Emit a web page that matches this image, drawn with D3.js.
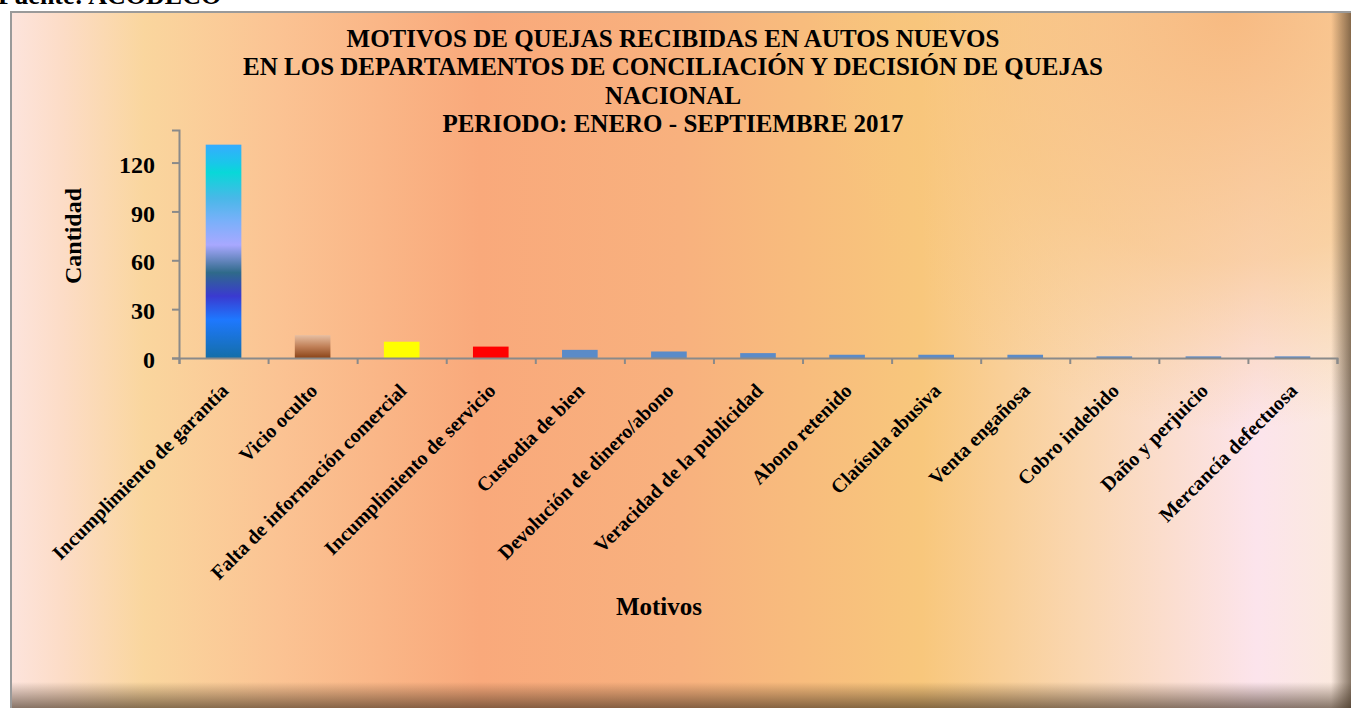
<!DOCTYPE html>
<html>
<head>
<meta charset="utf-8">
<script src="https://cdn.jsdelivr.net/npm/d3@7"></script>
<style>
    body { margin: 0; background: #ffffff; overflow: hidden; }
    svg { display: block; font-family: "Liberation Serif", "Times New Roman", serif; font-weight: bold; }
</style>
</head>
<body>
<svg id="chart"></svg>
<script>
// datos del grafico
const categorias = [
    "Incumplimiento de garantía",
    "Vicio oculto",
    "Falta de información comercial",
    "Incumplimiento de servicio",
    "Custodia de bien",
    "Devolución de dinero/abono",
    "Veracidad de la publicidad",
    "Abono retenido",
    "Claúsula abusiva",
    "Venta engañosa",
    "Cobro indebido",
    "Daño y perjuicio",
    "Mercancía defectuosa"
];
const cantidades = [131, 14, 10, 7, 5, 4, 3, 2, 2, 2, 1, 1, 1];
const ticksY = [0, 30, 60, 90, 120];
const titulo = [
    "MOTIVOS DE QUEJAS RECIBIDAS EN AUTOS NUEVOS",
    "EN LOS DEPARTAMENTOS DE CONCILIACIÓN Y DECISIÓN DE QUEJAS",
    "NACIONAL",
    "PERIODO: ENERO - SEPTIEMBRE 2017"
];
const tituloY = "Cantidad";
const tituloX = "Motivos";
const fuente = "Fuente: ACODECO";

// colores de las barras
const colores = ["url(#gOceano)", "url(#gCafe)", "#ffff00", "#ff0000"];
const colorResto = "#5b8bc8";

let svgWidth = 1351, svgHeight = 708;
let svg = d3.select("#chart")
    .attr("width", svgWidth)
    .attr("height", svgHeight);

let defs = svg.append("defs");

// fondo del area del grafico
let fondo = defs.append("linearGradient")
    .attr("id", "gFondo")
    .attr("gradientUnits", "userSpaceOnUse")
    .attr("x1", 10).attr("y1", 0).attr("x2", 1351).attr("y2", 0);
[
    [0, "#fde4dd"], [0.04, "#fcdcc6"], [0.1, "#fad69e"], [0.2, "#fbc393"],
    [0.35, "#f9a97b"], [0.5, "#f8b17e"], [0.68, "#f8c77c"], [0.8, "#fad7b2"],
    [0.93, "#fce4ec"], [1, "#fbeadb"]
].forEach(function (s) {
    fondo.append("stop").attr("offset", s[0]).attr("stop-color", s[1]);
});

let naranja = defs.append("radialGradient")
    .attr("id", "gNaranja")
    .attr("gradientUnits", "userSpaceOnUse")
    .attr("cx", 1230).attr("cy", 10).attr("r", 420);
naranja.append("stop").attr("offset", 0).attr("stop-color", "#f7b87c").attr("stop-opacity", 0.95);
naranja.append("stop").attr("offset", 0.6).attr("stop-color", "#f8c27c").attr("stop-opacity", 0.6);
naranja.append("stop").attr("offset", 1).attr("stop-color", "#f8c77c").attr("stop-opacity", 0);

let sombraDer = defs.append("linearGradient")
    .attr("id", "gSombraDer").attr("x1", 0).attr("y1", 0).attr("x2", 1).attr("y2", 0);
sombraDer.append("stop").attr("offset", 0).attr("stop-color", "#3a2a1a").attr("stop-opacity", 0);
sombraDer.append("stop").attr("offset", 1).attr("stop-color", "#3a2a1a").attr("stop-opacity", 0.6);

let sombraInf = defs.append("linearGradient")
    .attr("id", "gSombraInf").attr("x1", 0).attr("y1", 0).attr("x2", 0).attr("y2", 1);
sombraInf.append("stop").attr("offset", 0).attr("stop-color", "#3a2a1a").attr("stop-opacity", 0);
sombraInf.append("stop").attr("offset", 1).attr("stop-color", "#3a2a1a").attr("stop-opacity", 0.6);

// degradado de la primera barra
let oceano = defs.append("linearGradient")
    .attr("id", "gOceano").attr("x1", 0).attr("y1", 0).attr("x2", 0).attr("y2", 1);
[
    [0, "#36acff"], [0.09, "#18c8e8"], [0.13, "#08d8d8"], [0.25, "#48b8e8"],
    [0.36, "#7ab0fa"], [0.47, "#a8a8ff"], [0.6, "#2f6a8a"], [0.71, "#3a3ad0"],
    [0.82, "#1e78ff"], [1, "#146ea8"]
].forEach(function (s) {
    oceano.append("stop").attr("offset", s[0]).attr("stop-color", s[1]);
});

// degradado de la segunda barra
let cafe = defs.append("linearGradient")
    .attr("id", "gCafe").attr("x1", 0).attr("y1", 0).attr("x2", 0).attr("y2", 1);
cafe.append("stop").attr("offset", 0).attr("stop-color", "#e6bea2");
cafe.append("stop").attr("offset", 0.5).attr("stop-color", "#c08058");
cafe.append("stop").attr("offset", 1).attr("stop-color", "#8b4418");

// texto de la fuente (cortado arriba)
svg.append("text")
    .attr("x", -2)
    .attr("y", 4)
    .style("font-size", "26px")
    .text(fuente);

// area del grafico
svg.append("rect")
    .attr("x", 11).attr("y", 12)
    .attr("width", 1345).attr("height", 700)
    .attr("fill", "url(#gFondo)")
    .attr("stroke", "#9a9a9a")
    .attr("stroke-width", 2);
svg.append("rect")
    .attr("x", 12).attr("y", 13)
    .attr("width", 1339).attr("height", 695)
    .attr("fill", "url(#gNaranja)");
svg.append("rect")
    .attr("x", 1331).attr("y", 13)
    .attr("width", 20).attr("height", 695)
    .attr("fill", "url(#gSombraDer)");
svg.append("rect")
    .attr("x", 12).attr("y", 682)
    .attr("width", 1339).attr("height", 26)
    .attr("fill", "url(#gSombraInf)");

// titulo
svg.append("g")
    .selectAll("text")
    .data(titulo)
    .enter()
    .append("text")
    .attr("x", 673)
    .attr("y", function (d, i) { return 47 + i * 28.3; })
    .attr("text-anchor", "middle")
    .style("font-size", "25px")
    .text(function (d) { return d; });

// escalas
let x = d3.scaleBand()
    .domain(categorias)
    .range([179, 1337])
    .padding(0);

let xBordes = d3.scaleLinear()
    .domain([0, categorias.length])
    .range([179, 1337]);

let y = d3.scaleLinear()
    .domain([0, 140])
    .range([358, 130]);

let colorAxis = "#8a8a8a";

// barras
let anchoBarra = x.bandwidth() * 0.4;
svg.append("g")
    .selectAll("rect")
    .data(cantidades)
    .enter()
    .append("rect")
    .attr("x", function (d, i) { return x(categorias[i]) + (x.bandwidth() - anchoBarra) / 2; })
    .attr("y", function (d) { return y(d); })
    .attr("width", anchoBarra)
    .attr("height", function (d) { return y(0) - y(d); })
    .attr("fill", function (d, i) { return i < colores.length ? colores[i] : colorResto; });

// eje y
let ejeY = svg.append("g")
    .attr("transform", "translate(179,0)")
    .call(d3.axisLeft(y).tickValues(ticksY).tickSize(7).tickPadding(17));
ejeY.select(".domain").attr("stroke", colorAxis).attr("stroke-width", 2);
ejeY.selectAll(".tick line").attr("stroke", colorAxis).attr("stroke-width", 2);
ejeY.selectAll(".tick text")
    .attr("fill", "#000")
    .attr("dy", "0.4em")
    .style("font-family", "Liberation Serif, Times New Roman, serif")
    .style("font-weight", "bold")
    .style("font-size", "24px");

// eje x: marcas entre categorias
let ejeX = svg.append("g")
    .attr("transform", "translate(0,358)")
    .call(d3.axisBottom(xBordes).ticks(categorias.length).tickSize(6).tickFormat(""));
ejeX.select(".domain").attr("stroke", colorAxis).attr("stroke-width", 2);
ejeX.selectAll(".tick line").attr("stroke", colorAxis).attr("stroke-width", 2);

// etiquetas de categorias
let etiquetas = svg.append("g")
    .attr("transform", "translate(0,358)")
    .call(d3.axisBottom(x).tickSize(0));
etiquetas.select(".domain").remove();
etiquetas.selectAll(".tick text")
    .attr("x", 0).attr("y", 0).attr("dy", 0)
    .attr("fill", "#000")
    .attr("text-anchor", "end")
    .attr("transform", "translate(6,34) rotate(-45)")
    .style("font-family", "Liberation Serif, Times New Roman, serif")
    .style("font-weight", "bold")
    .style("font-size", "20px");

// titulos de ejes
svg.append("text")
    .attr("transform", "translate(81,236) rotate(-90)")
    .attr("text-anchor", "middle")
    .style("font-size", "24px")
    .text(tituloY);

svg.append("text")
    .attr("x", 659)
    .attr("y", 615)
    .attr("text-anchor", "middle")
    .style("font-size", "25px")
    .text(tituloX);
</script>
</body>
</html>
